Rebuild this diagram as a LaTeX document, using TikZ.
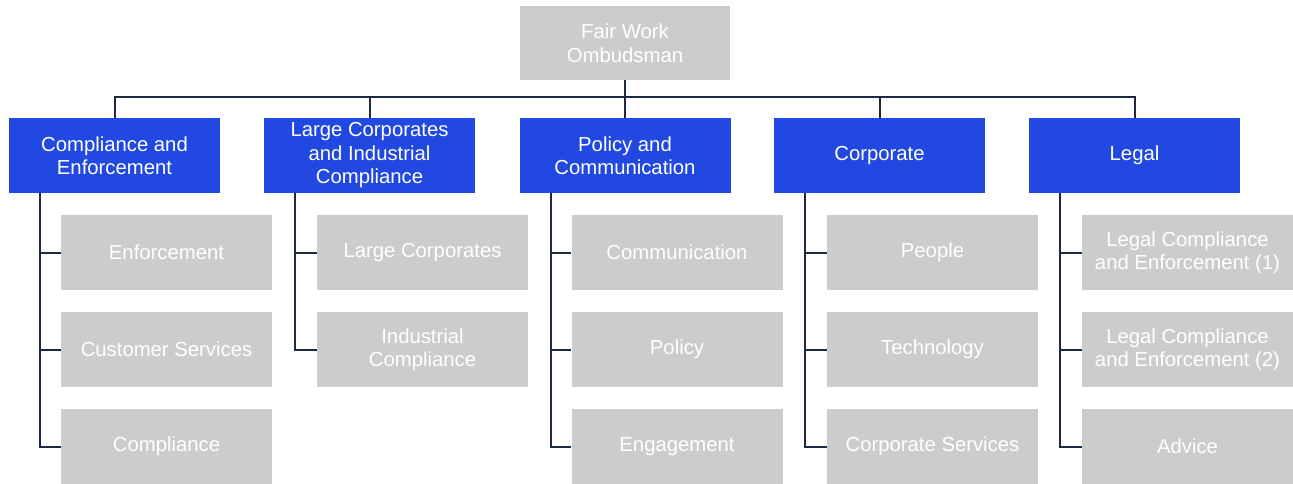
\documentclass[tikz,border=0pt]{standalone}
\usepackage{fontspec}
\setmainfont{Liberation Sans}
\definecolor{boxblue}{HTML}{2148E0}
\definecolor{boxgray}{HTML}{CCCCCC}
\definecolor{linenavy}{HTML}{1B2A40}
\tikzset{
  base/.style={inner sep=0pt, minimum width=211pt, minimum height=75pt, align=center, text=white, font=\fontsize{20.3}{23.5}\selectfont},
  topbox/.style={base, fill=boxgray, minimum width=210pt, minimum height=74pt},
  unitbox/.style={base, fill=boxblue},
  subbox/.style={base, fill=boxgray},
  conn/.style={draw=linenavy, line width=2pt}
}
\begin{document}
\begin{tikzpicture}[x=1pt,y=-1pt]
\useasboundingbox (0,0) rectangle (1293,484);
\node[topbox] (top) at (625,43) {Fair Work\\Ombudsman};
\node[unitbox] (b1) at (114.5,155.5) {Compliance and\\Enforcement};
\node[unitbox] (b2) at (369.5,155.5) {Large Corporates\\and Industrial\\Compliance};
\node[unitbox] (b3) at (625,155.5) {Policy and\\Communication};
\node[unitbox] (b4) at (879.5,155.5) {Corporate};
\node[unitbox] (b5) at (1134.5,155.5) {Legal};
\node[subbox] (c1a) at (166.5,252.5) {Enforcement};
\node[subbox] (c1b) at (166.5,349.5) {Customer Services};
\node[subbox] (c1c) at (166.5,446.5) {Compliance};
\node[subbox] (c2a) at (422.5,252.5) {Large Corporates};
\node[subbox] (c2b) at (422.5,349.5) {Industrial\\Compliance};
\node[subbox] (c3a) at (677,252.5) {Communication};
\node[subbox] (c3b) at (677,349.5) {Policy};
\node[subbox] (c3c) at (677,446.5) {Engagement};
\node[subbox] (c4a) at (932.5,252.5) {People};
\node[subbox] (c4b) at (932.5,349.5) {Technology};
\node[subbox] (c4c) at (932.5,446.5) {Corporate Services};
\node[subbox] (c5a) at (1187.5,252.5) {Legal Compliance\\and Enforcement (1)};
\node[subbox] (c5b) at (1187.5,349.5) {Legal Compliance\\and Enforcement (2)};
\node[subbox] (c5c) at (1187.5,446.5) {Advice};
\coordinate (bus) at (625,97);
\draw[conn] (top.south) -- (bus);
\foreach \b in {b1,b2,b3,b4,b5} {\draw[conn] (bus) -| (\b.north);}
\foreach \b/\c in {b1/c1a,b1/c1b,b1/c1c,b2/c2a,b2/c2b,b3/c3a,b3/c3b,b3/c3c,b4/c4a,b4/c4b,b4/c4c,b5/c5a,b5/c5b,b5/c5c}
  {\draw[conn] ([xshift=-74.5pt]\b.south) |- (\c.west);}
\end{tikzpicture}
\end{document}
